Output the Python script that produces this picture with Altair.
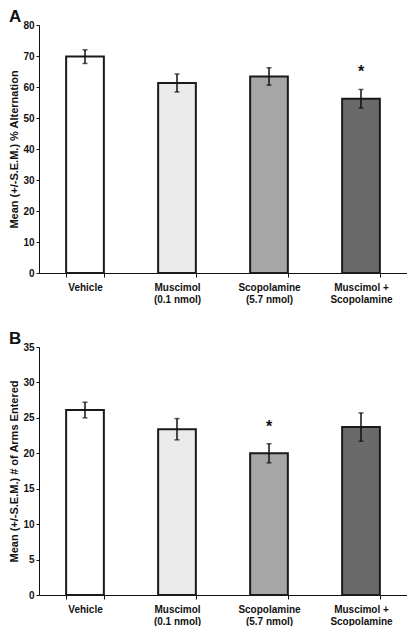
import altair as alt
import pandas as pd

groups = ["Vehicle", "Muscimol (0.1 nmol)", "Scopolamine (5.7 nmol)", "Muscimol + Scopolamine"]
group_labels = ["Vehicle", "Muscimol|(0.1 nmol)", "Scopolamine|(5.7 nmol)", "Muscimol +|Scopolamine"]
fills = ["#ffffff", "#ebebeb", "#a6a6a6", "#6a6a6a"]

alt_mean = [69.8, 61.3, 63.4, 56.2]
alt_sem = [2.2, 2.9, 2.8, 3.0]
alt_star = ["", "", "", "*"]
alt_ticks = [0, 10, 20, 30, 40, 50, 60, 70, 80]

arms_mean = [26.1, 23.4, 20.0, 23.7]
arms_sem = [1.1, 1.5, 1.35, 2.0]
arms_star = ["", "", "*", ""]
arms_ticks = [0, 5, 10, 15, 20, 25, 30, 35]

FONT = "Liberation Sans"
label_expr = "split(" + " : ".join(
    [f"datum.value == '{g}' ? '{l}'" for g, l in zip(groups, group_labels)]
) + " : '', '|')"


def panel(letter, means, sems, stars, ticks, ytitle):
    df = pd.DataFrame({
        "group": groups,
        "mean": means,
        "lo": [m - s for m, s in zip(means, sems)],
        "hi": [m + s for m, s in zip(means, sems)],
        "star": stars,
        "fill": fills,
    })
    xaxis = alt.Axis(labelAngle=0, tickBand="extent", labelExpr=label_expr,
                     labelFont=FONT, labelFontSize=10, labelFontWeight="bold",
                     labelColor="#111", domainColor="#111", tickColor="#111",
                     tickSize=4, labelPadding=5, labelLineHeight=12,
                     labelOverlap=False, domainWidth=1)
    yaxis = alt.Axis(values=ticks, grid=False,
                     labelOverlap=False, labelFlush=False,
                     labelFont=FONT, labelFontSize=10, labelFontWeight="bold",
                     labelColor="#111", titleFont=FONT, titleFontSize=11,
                     titleFontWeight="bold", titleColor="#111",
                     domainColor="#111", tickColor="#111", tickSize=3,
                     labelPadding=2, titlePadding=3, domainWidth=1)
    yscale = alt.Scale(domain=[ticks[0], ticks[-1]], nice=False, zero=True)
    xs = alt.X("group:N", sort=groups, title=None,
               scale=alt.Scale(paddingInner=0.59, paddingOuter=0.295), axis=xaxis)

    def yenc(field):
        return alt.Y(field, title=ytitle, scale=yscale, axis=yaxis)

    base = alt.Chart(df)
    bars = base.mark_bar(stroke="#1a1a1a", strokeWidth=2).encode(
        x=xs, y=yenc("mean:Q"), fill=alt.Fill("fill:N", scale=None))
    rule = base.mark_rule(color="#111", strokeWidth=1.5).encode(
        x=xs, y=yenc("lo:Q"), y2="hi:Q")
    cap_hi = base.mark_tick(color="#111", thickness=1.5, size=5, orient="horizontal").encode(
        x=xs, y=yenc("hi:Q"))
    cap_lo = base.mark_tick(color="#111", thickness=1.5, size=5, orient="horizontal").encode(
        x=xs, y=yenc("lo:Q"))
    star = base.mark_text(font=FONT, fontSize=16, fontWeight="bold", color="#111",
                          baseline="middle", dy=-17).encode(
        x=xs, y=yenc("hi:Q"), text="star:N")
    return alt.layer(bars, rule, cap_hi, cap_lo, star).properties(
        width=368, height=248,
        title=alt.TitleParams(letter, anchor="start", frame="bounds", font=FONT,
                              fontSize=17, fontWeight="bold", color="#111", offset=-6),
    )


chart_a = panel("A", alt_mean, alt_sem, alt_star, alt_ticks,
                "Mean (+/-S.E.M.) % Alternation")
chart_b = panel("B", arms_mean, arms_sem, arms_star, arms_ticks,
                "Mean (+/-S.E.M.) # of Arms Entered")

chart = alt.vconcat(chart_a, chart_b, spacing=26).properties(padding=0).configure_view(
    stroke=None)

chart.save("out.html", embed_options={"renderer": "svg", "actions": False})
